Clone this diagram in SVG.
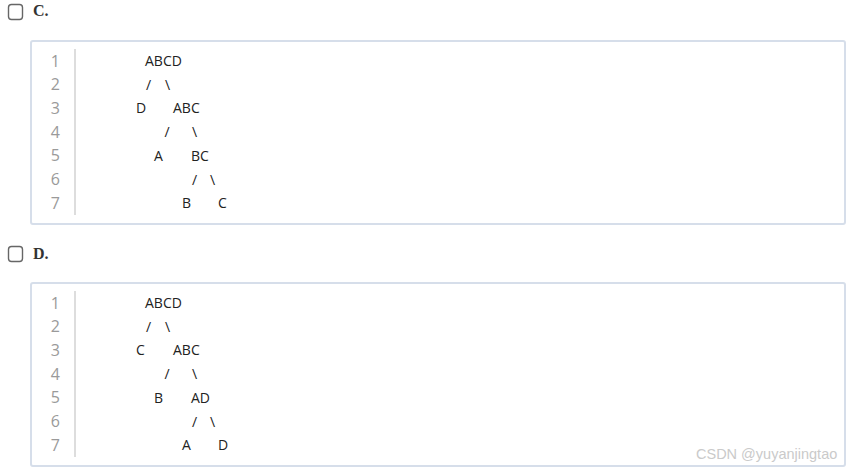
<svg xmlns="http://www.w3.org/2000/svg" width="852" height="472" viewBox="0 0 852 472">
<style>
.cb{fill:#fff;stroke:#666;stroke-width:1.4}
.opt{font-family:"Liberation Serif",serif;font-weight:bold;font-size:16px;fill:#333}
.box{fill:#fff;stroke:#d6deea;stroke-width:2}
.gut{stroke:#ddd;stroke-width:2}
.ln{font-family:"Open Sans","Noto Sans",sans-serif;font-size:16px;fill:#9a9a9a;text-anchor:end}
.code{font-family:"Open Sans","Noto Sans",sans-serif;font-size:14px;fill:#222}
.wm{font-family:"Liberation Sans",Arial,sans-serif;font-size:14.5px;fill:#cacaca}
</style>
<rect width="852" height="472" fill="#fff"/>
<g id="optionC">
<rect class="cb" x="8.5" y="4.5" width="14" height="15" rx="3"/>
<text class="opt" x="33" y="16">C.</text>
<rect class="box" x="31" y="41" width="814" height="183" rx="2"/>
<line class="gut" x1="75" y1="49" x2="75" y2="215"/>
<g class="ln">
<text x="60" y="66.5">1</text><text x="60" y="90">2</text><text x="60" y="113.5">3</text><text x="60" y="137.5">4</text><text x="60" y="161">5</text><text x="60" y="184.5">6</text><text x="60" y="208.5">7</text>
</g>
<g class="code">
<text x="145" y="66">ABCD</text>
<text x="146" y="90">/</text><text x="165" y="90">\</text>
<text x="136" y="113">D</text><text x="173" y="113">ABC</text>
<text x="164.5" y="137">/</text><text x="192" y="137">\</text>
<text x="154" y="161">A</text><text x="191" y="161">BC</text>
<text x="192" y="185">/</text><text x="210" y="185">\</text>
<text x="182" y="208">B</text><text x="218" y="208">C</text>
</g>
</g>
<g id="optionD">
<rect class="cb" x="8.5" y="246.5" width="14" height="15" rx="3"/>
<text class="opt" x="33" y="258.5">D.</text>
<rect class="box" x="31" y="283" width="814" height="183" rx="2"/>
<line class="gut" x1="75" y1="291" x2="75" y2="457"/>
<g class="ln">
<text x="60" y="308.5">1</text><text x="60" y="332">2</text><text x="60" y="355.5">3</text><text x="60" y="379.5">4</text><text x="60" y="403">5</text><text x="60" y="426.5">6</text><text x="60" y="450.5">7</text>
</g>
<g class="code">
<text x="145" y="308">ABCD</text>
<text x="146" y="332">/</text><text x="165" y="332">\</text>
<text x="136" y="355">C</text><text x="173" y="355">ABC</text>
<text x="164.5" y="379">/</text><text x="192" y="379">\</text>
<text x="154" y="403">B</text><text x="191" y="403">AD</text>
<text x="192" y="427">/</text><text x="210" y="427">\</text>
<text x="182" y="450">A</text><text x="218" y="450">D</text>
</g>
</g>
<text class="wm" x="696" y="459">CSDN @yuyanjingtao</text>
</svg>
